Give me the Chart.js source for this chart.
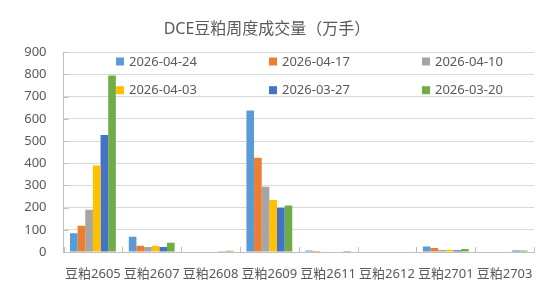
<!DOCTYPE html>
<html>
<head>
<meta charset="utf-8">
<script src="https://cdn.jsdelivr.net/npm/chart.js@4/dist/chart.umd.min.js"></script>
<style>
html,body{margin:0;padding:0;background:#fff;}
#wrap{width:550px;height:291px;position:relative;}
</style>
</head>
<body>
<div id="wrap"><canvas id="c"></canvas></div>
<script>
const categories = ['豆粕2605','豆粕2607','豆粕2608','豆粕2609','豆粕2611','豆粕2612','豆粕2701','豆粕2703'];
const seriesLabels = ['2026-04-24','2026-04-17','2026-04-10','2026-04-03','2026-03-27','2026-03-20'];
const s20260424 = [85, 69, 2, 637, 7, 2, 25, 2];
const s20260417 = [118, 28, 0, 424, 4, 0, 18, 0];
const s20260410 = [190, 22, 0, 294, 2, 0, 9, 0];
const s20260403 = [390, 28, 0, 234, 2, 0, 10, 2];
const s20260327 = [527, 22, 3, 199, 2, 0, 8, 7];
const s20260320 = [795, 42, 6, 210, 5, 0, 14, 7];
const yTicks = [0,100,200,300,400,500,600,700,800,900];
const seriesValues = [s20260424, s20260417, s20260410, s20260403, s20260327, s20260320];
const colors = ['#5B9BD5','#ED7D31','#A5A5A5','#FFC000','#4472C4','#70AD47'];

const FONT = '"Noto Sans", "Noto Sans CJK SC", sans-serif';
const TXT = '#595959';

const legendPlugin = {
  id: 'gridLegend',
  afterDraw(chart) {
    const ctx = chart.ctx;
    ctx.save();
    ctx.font = '13px ' + FONT;
    ctx.textBaseline = 'middle';
    ctx.textAlign = 'left';
    chart.data.datasets.forEach((ds, i) => {
      const col = i % 3, row = Math.floor(i / 3);
      const x = 116 + col * 153;
      const y = 61.5 + row * 28.7;
      ctx.fillStyle = ds.backgroundColor;
      ctx.fillRect(x, y - 4, 8, 8);
      ctx.fillStyle = TXT;
      ctx.fillText(ds.label, x + 13, y + 0.5);
    });
    ctx.restore();
  }
};

const innerTicks = {
  id: 'innerTicks',
  afterDatasetsDraw(chart) {
    const ctx = chart.ctx;
    const xs = chart.scales.x, ys = chart.scales.y;
    const a = chart.chartArea;
    ctx.save();
    ctx.strokeStyle = '#bfbfbf';
    ctx.lineWidth = 1;
    ctx.beginPath();
    const n = categories.length;
    for (let i = 0; i <= n; i++) {
      const x = Math.round(xs.getPixelForValue(i - 0.5)) + 0.5;
      ctx.moveTo(x, a.bottom);
      ctx.lineTo(x, a.bottom - 5);
    }
    yTicks.forEach(v => {
      const y = Math.round(ys.getPixelForValue(v)) + 0.5;
      ctx.moveTo(a.left, y);
      ctx.lineTo(a.left + 5, y);
    });
    ctx.stroke();
    ctx.restore();
  }
};

new Chart(document.getElementById('c'), {
  type: 'bar',
  data: {
    labels: categories,
    datasets: seriesValues.map((vals, i) => ({
      label: seriesLabels[i],
      data: vals,
      backgroundColor: colors[i],
      borderWidth: 0,
      barPercentage: 1.0,
      categoryPercentage: 0.78
    }))
  },
  options: {
    responsive: true,
    maintainAspectRatio: false,
    animation: false,
    layout: { padding: { left: 0, right: 16, top: 0, bottom: 0 } },
    plugins: {
      legend: { display: false },
      tooltip: { enabled: false },
      title: {
        display: true,
        text: 'DCE豆粕周度成交量（万手）',
        color: TXT,
        font: { family: FONT, size: 16, weight: 'normal' },
        padding: { top: 20, bottom: 13 }
      }
    },
    scales: {
      x: {
        grid: { display: false, drawTicks: false },
        border: { display: true, color: '#bfbfbf', width: 1 },
        ticks: {
          color: TXT,
          font: { family: FONT, size: 13 },
          padding: 14,
          maxRotation: 0,
          autoSkip: false
        },
        afterFit(scale) { scale.height = 39; }
      },
      y: {
        min: 0,
        max: 900,
        afterBuildTicks(scale) { scale.ticks = yTicks.map(v => ({ value: v })); },
        grid: { color: '#d9d9d9', drawTicks: false, lineWidth: 1 },
        border: { display: true, color: '#bfbfbf', width: 1 },
        ticks: {
          color: TXT,
          font: { family: FONT, size: 13 },
          padding: 17
        },
        afterFit(scale) { scale.width = 63.5; }
      }
    }
  },
  plugins: [innerTicks, legendPlugin]
});
</script>
</body>
</html>
